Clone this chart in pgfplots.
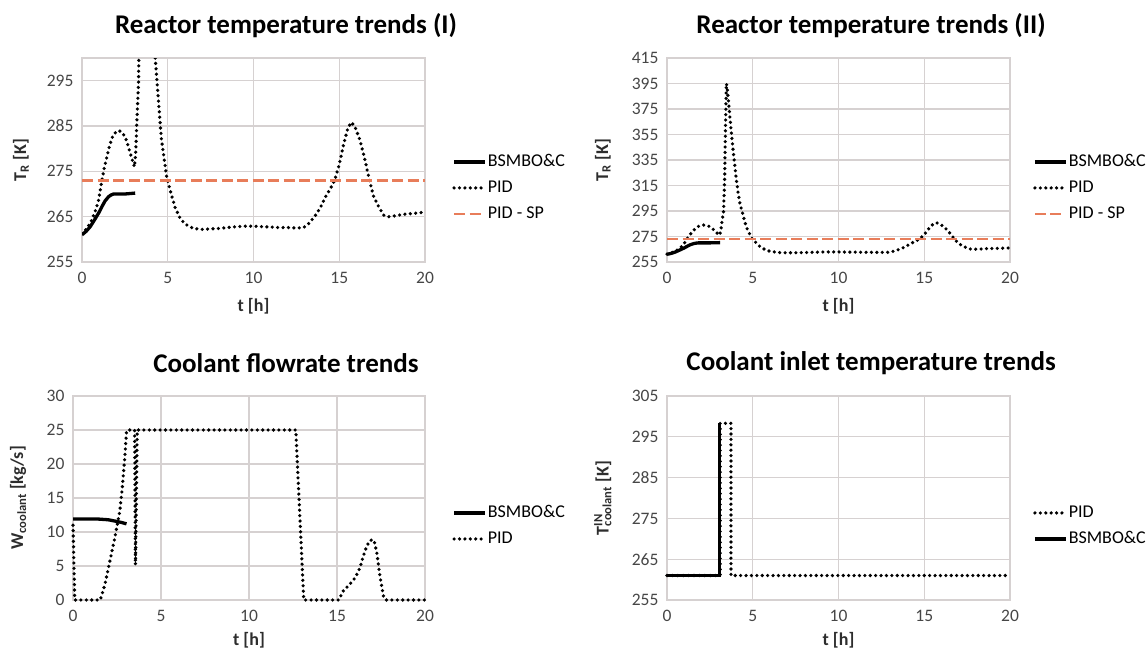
\documentclass[border=0pt]{standalone}
\usepackage{pgfplots}
\pgfplotsset{compat=1.18}
\usepackage{pgfplotstable}
\usepackage{fontspec}
\setmainfont{Carlito}
\definecolor{gridc}{RGB}{214,209,209}
\definecolor{tickc}{RGB}{70,70,70}
\definecolor{labc}{RGB}{45,45,45}
\definecolor{spc}{RGB}{232,125,90}

\pgfplotstableread{
t T
0 261.2
0.3 262.5
0.58 264.3
0.8 266.5
0.97 268.7
1.16 273
1.3 275.8
1.45 278.2
1.6 280.5
1.74 282.3
1.9 283.4
2.13 284
2.3 283.7
2.52 282.6
2.7 280.5
2.81 279
2.95 277.3
3.06 276
3.13 279
3.2 286
3.3 295
3.36 320
3.41 360
3.46 395
3.5 393
3.58 382
3.65 371
3.75 357
3.85 343
3.95 331
4.04 320
4.15 309
4.25 301
4.33 297
4.45 291
4.62 282.5
4.8 277.5
4.94 273.7
5.2 270
5.43 267
5.7 264.8
6.0 263.4
6.5 262.4
7.0 262.2
7.5 262.3
8.0 262.4
8.5 262.6
9.0 262.8
9.5 262.9
10.0 262.9
10.5 262.8
11.0 262.7
11.5 262.6
12.0 262.6
12.5 262.5
12.92 262.6
13.2 263.4
13.56 265
13.9 267
14.2 269.4
14.5 271.3
14.73 273
15.0 276.5
15.27 281.2
15.5 284.5
15.7 285.8
15.9 285
16.2 282
16.5 277.5
16.76 273
17.0 269.5
17.3 267.2
17.6 265.3
17.9 265
18.3 265.2
18.7 265.5
19.3 265.7
20 266
}\pidT

\pgfplotstableread{
t T
0 261
0.25 261.8
0.48 262.8
0.78 264.6
1.0 266
1.16 267.2
1.35 268.5
1.55 269.4
1.7 269.8
1.84 270
2.5 270
3.1 270.2
}\bsmT

\pgfplotstableread{
t W
0 11
0.1 0
1.55 0
1.82 2.35
2.1 5.8
2.38 9.2
2.66 13.1
2.8 16.5
2.94 20.9
3.04 24.8
3.1 25
3.5 25
3.55 5.2
3.65 25
12.66 25
13.11 0
15.1 0
15.38 1.45
15.66 2.1
16.04 3.3
16.3 4.7
16.5 6.5
16.7 8
16.9 8.8
17.1 8.8
17.26 7
17.45 3.3
17.64 0.6
17.77 0
20 0
}\pidW

\pgfplotstableread{
t W
0 11.9
1.45 11.9
2.0 11.8
2.4 11.6
2.76 11.4
3.04 11.2
}\bsmW

\pgfplotstableread{
t T
0 261
3.1 261
3.1 298.3
3.73 298.3
3.73 261
20 261
}\pidTin

\pgfplotstableread{
t T
0 261
3.05 261
3.05 298.3
}\bsmTin

\pgfplotsset{
  excel/.style={
    scale only axis,
    xmin=0, xmax=20, xtick={0,5,...,20},
    grid=major,
    major grid style={gridc, line width=1.3pt},
    axis line style={gridc, line width=1.3pt},
    major tick length=0pt,
    tick label style={font=\fontsize{17.5}{20}\selectfont, color=tickc},
    xticklabel style={yshift=-7pt},
    yticklabel style={xshift=-5pt},
    /pgf/number format/assume math mode=true,
    label style={font=\bfseries\fontsize{18}{21}\selectfont, color=labc},
    title style={font=\bfseries\fontsize{27}{31}\selectfont, anchor=center},
    xlabel={t [h]},
    legend style={draw=none, fill=none, inner sep=0pt, anchor=west,
      font=\fontsize{18}{21}\selectfont, row sep=7pt,
      nodes={inner sep=1pt, text height=13pt, text depth=4pt, anchor=west}},
    legend cell align=left,
    legend image code/.code={\draw[##1] (0pt,0pt) -- (31pt,0pt);},
  },
  pid/.style={black, line width=3.6pt, line cap=round, dash pattern=on 0pt off 5.4pt},
  bsm/.style={black, line width=3.3pt},
  sp/.style={spc, line width=2.3pt, dash pattern=on 11pt off 4.5pt},
}

\begin{document}
\begin{tikzpicture}
\path[use as bounding box] (0pt,0pt) rectangle (1148pt,654pt);

% Panel 1
\begin{axis}[excel, at={(82pt,392pt)}, anchor=south west,
  width=343pt, height=204pt,
  ymin=255, ymax=300, ytick={255,265,...,295},
  title={Reactor temperature trends (I)},
  title style={at={(axis description cs:0.595,1.128)}},
  ylabel={T\textsubscript{R} [K]},
  ylabel style={at={(axis description cs:-0.178,0.5)}, anchor=center},
  xlabel style={at={(axis description cs:0.5,-0.216)}, anchor=center},
  legend style={at={(axis description cs:1.079,0.363)}},
  clip=true]
\addplot[bsm] table[x=t,y=T] {\bsmT};
\addlegendentry{BSMBO\&C}
\addplot[pid] table[x=t,y=T] {\pidT};
\addlegendentry{PID}
\addplot[sp] coordinates {(0,273) (20,273)};
\addlegendentry{PID - SP}
\end{axis}

% Panel 2
\begin{axis}[excel, at={(667pt,392pt)}, anchor=south west,
  width=343pt, height=204pt,
  ymin=255, ymax=415, ytick={255,275,...,415},
  title={Reactor temperature trends (II)},
  title style={at={(axis description cs:0.595,1.128)}},
  ylabel={T\textsubscript{R} [K]},
  ylabel style={at={(axis description cs:-0.187,0.5)}, anchor=center},
  xlabel style={at={(axis description cs:0.5,-0.216)}, anchor=center},
  legend style={at={(axis description cs:1.067,0.363)}},
  clip=false]
\addplot[bsm] table[x=t,y=T] {\bsmT};
\addlegendentry{BSMBO\&C}
\addplot[pid] table[x=t,y=T] {\pidT};
\addlegendentry{PID}
\addplot[sp] coordinates {(0,273) (20,273)};
\addlegendentry{PID - SP}
\end{axis}

% Panel 3
\begin{axis}[excel, at={(73pt,54pt)}, anchor=south west,
  width=352pt, height=204pt,
  ymin=0, ymax=30, ytick={0,5,...,30},
  title={Coolant flowrate trends},
  title style={at={(axis description cs:0.605,1.133)}},
  ylabel={W\textsubscript{coolant} [kg/s]},
  ylabel style={at={(axis description cs:-0.156,0.5)}, anchor=center},
  xlabel style={at={(axis description cs:0.5,-0.196)}, anchor=center},
  legend style={at={(axis description cs:1.077,0.363)}},
  clip=false]
\addplot[bsm] table[x=t,y=W] {\bsmW};
\addlegendentry{BSMBO\&C}
\addplot[pid] table[x=t,y=W] {\pidW};
\addlegendentry{PID}
\end{axis}

% Panel 4
\begin{axis}[excel, at={(667pt,54pt)}, anchor=south west,
  width=343pt, height=204pt,
  ymin=255, ymax=305, ytick={255,265,...,305},
  title={Coolant inlet temperature trends},
  title style={at={(axis description cs:0.595,1.133)}},
  ylabel={T\rlap{\textsuperscript{IN}}\textsubscript{coolant} [K]},
  ylabel style={at={(axis description cs:-0.187,0.5)}, anchor=center},
  xlabel style={at={(axis description cs:0.5,-0.196)}, anchor=center},
  legend style={at={(axis description cs:1.067,0.363)}},
  clip=false]
\addplot[pid] table[x=t,y=T] {\pidTin};
\addlegendentry{PID}
\addplot[bsm] table[x=t,y=T] {\bsmTin};
\addlegendentry{BSMBO\&C}
\end{axis}
\end{tikzpicture}
\end{document}
